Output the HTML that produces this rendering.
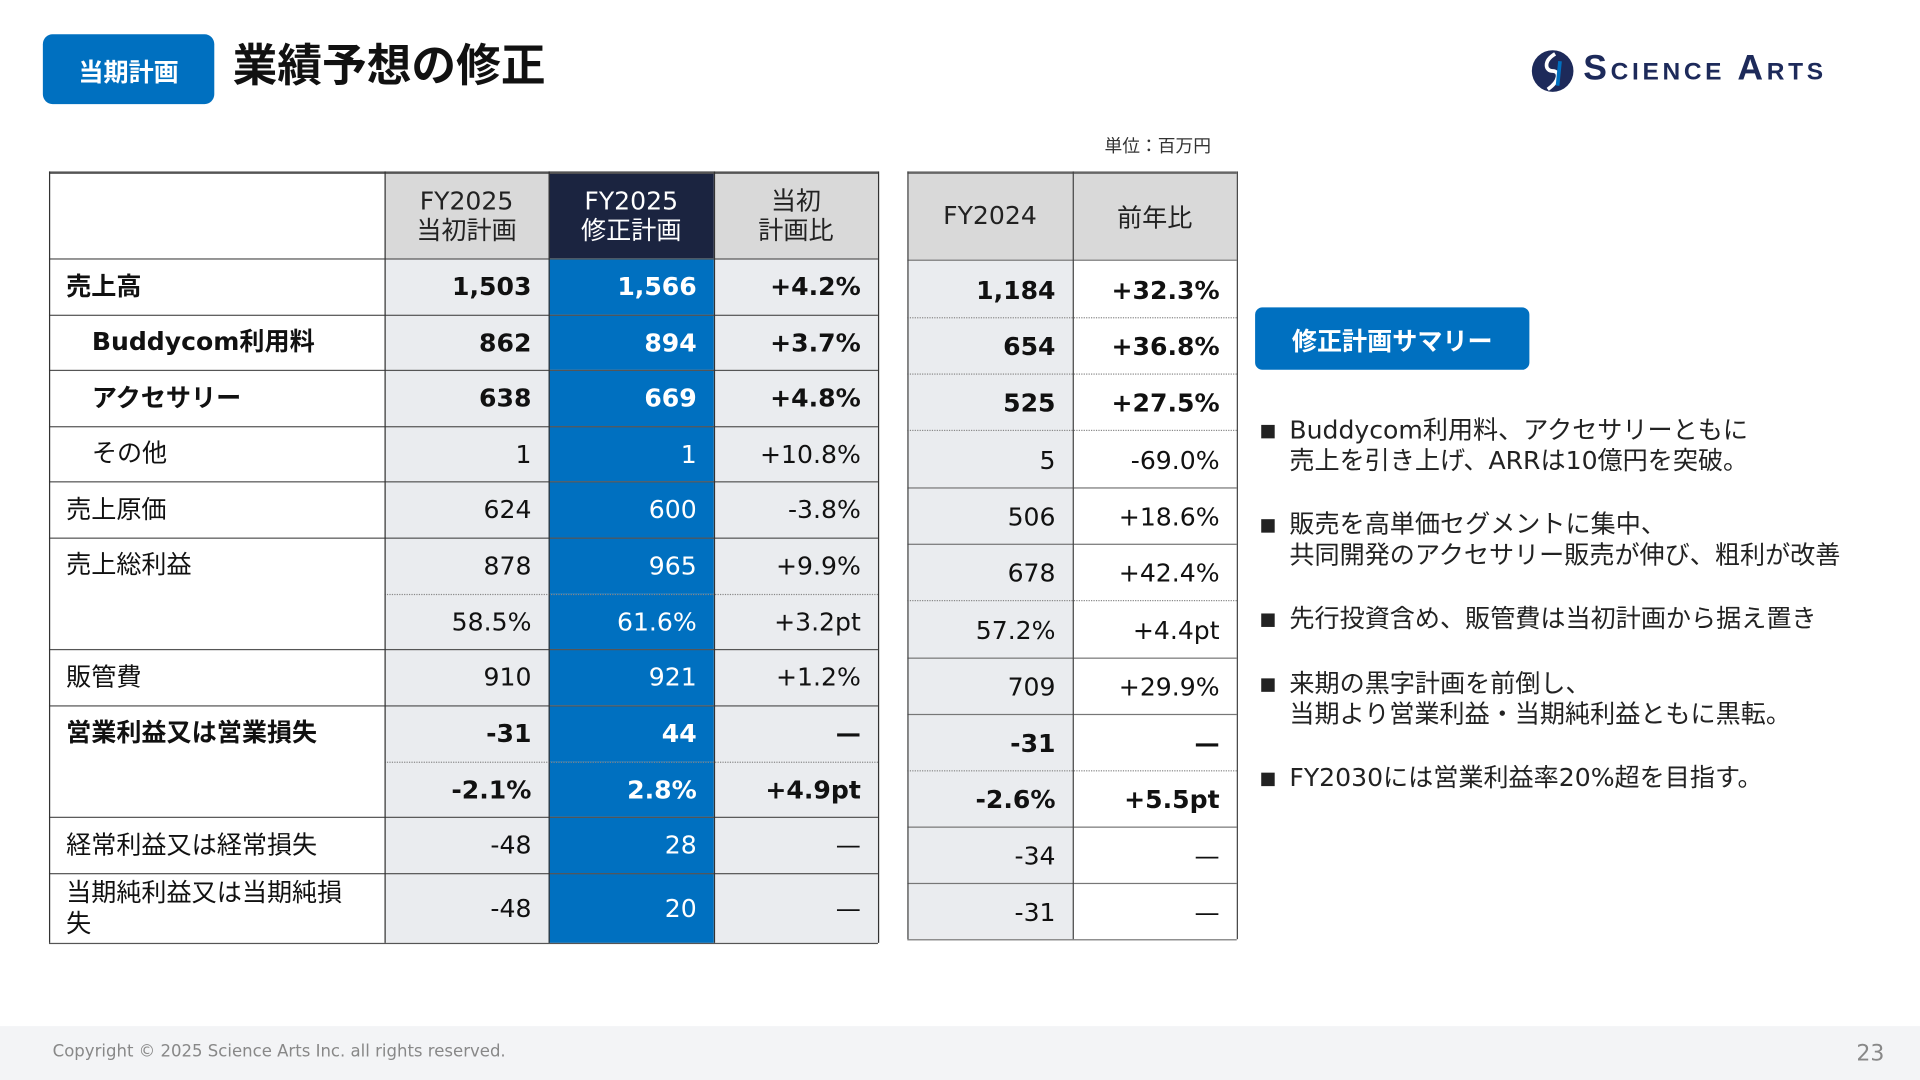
<!DOCTYPE html>
<html lang="ja"><head><meta charset="utf-8">
<style>
html,body{margin:0;padding:0;width:1920px;height:1080px;overflow:hidden;background:#fff}
#stage{position:absolute;left:0;top:0;width:1568px;height:882px;transform:scale(1.2244898);transform-origin:0 0;font-family:"DejaVu Sans","Noto Sans CJK JP",sans-serif;color:#111}
.abs{position:absolute;box-sizing:border-box}
.cell{position:absolute;box-sizing:border-box;display:flex;align-items:center;font-size:20.5px;white-space:nowrap}
.bullet{position:absolute;left:1030px;font-size:20.5px;line-height:25px;color:#222;white-space:nowrap}
.bullet::before{content:"";position:absolute;left:0;top:8px;width:11px;height:11px;background:#222}
.bullet span{display:block;padding-left:23px}
</style></head><body>
<div id="stage">
  <div class="abs" style="left:35px;top:28px;width:140px;height:57px;background:#0070c0;border-radius:8px;color:#fff;font-weight:bold;font-size:20.5px;display:flex;align-items:center;justify-content:center">当期計画</div>
  <div class="abs" style="left:190px;top:31px;font-size:36.5px;font-weight:bold;line-height:46px">業績予想の修正</div>
  <div class="abs" style="left:1250px;top:40px;width:290px;height:36px">
    <svg width="36" height="36" viewBox="0 0 36 36" style="position:absolute;left:0;top:0"><circle cx="18" cy="18" r="17" fill="#1d2a5a"/><path d="M20 4 C10 10 12 18 18 18 C24 18 24 26 14 33" stroke="#fff" stroke-width="3" fill="none"/><path d="M24 10 L22 30" stroke="#0070c0" stroke-width="3"/></svg>
    <div class="abs" style="left:43px;top:0px;font-size:29px;font-weight:bold;color:#1d2a5a;letter-spacing:3px;font-variant:small-caps;font-family:'Liberation Sans',sans-serif">Science Arts</div>
  </div>
  <div class="abs" style="left:902px;top:108px;font-size:14.5px;color:#333">単位：百万円</div>
  <div id="t1"></div>
  <div id="t2"></div>
  <div class="abs" style="left:1025px;top:251px;width:224px;height:51px;background:#0070c0;border-radius:6px;color:#fff;font-weight:bold;font-size:20.5px;display:flex;align-items:center;justify-content:center">修正計画サマリー</div>
  <div class="bullet" style="top:339px"><span>Buddycom利用料、アクセサリーともに<br>売上を引き上げ、ARRは10億円を突破。</span></div>
  <div class="bullet" style="top:416px"><span>販売を高単価セグメントに集中、<br>共同開発のアクセサリー販売が伸び、粗利が改善</span></div>
  <div class="bullet" style="top:493px"><span>先行投資含め、販管費は当初計画から据え置き</span></div>
  <div class="bullet" style="top:546px"><span>来期の黒字計画を前倒し、<br>当期より営業利益・当期純利益ともに黒転。</span></div>
  <div class="bullet" style="top:623px"><span>FY2030には営業利益率20%超を目指す。</span></div>
  <div class="abs" style="left:0;top:838px;width:1568px;height:44px;background:#f3f4f6">
    <div class="abs" style="left:43px;top:13px;font-size:13.5px;color:#888">Copyright © 2025 Science Arts Inc. all rights reserved.</div>
    <div class="abs" style="left:1516px;top:12px;font-size:18px;color:#888">23</div>
  </div>
</div>
<script>
const t1Cols=[40,314,448,583,717];
const t1Rows=[211,257,302,348,393,439,485,530,576,622,667,713,770];
const t1Head=["","FY2025<br>当初計画","FY2025<br>修正計画","当初<br>計画比"];
const t1Labels=[["売上高",1,0,1,0],["Buddycom利用料",1,1,1,1],["アクセサリー",1,1,1,2],["その他",0,1,1,3],["売上原価",0,0,1,4],["売上総利益",0,0,2,5],["販管費",0,0,1,7],["営業利益又は営業損失",1,0,2,8],["経常利益又は経常損失",0,0,1,10],["当期純利益又は当期純損<br>失",0,0,1,11]];
const t1Orig=["1,503","862","638","1","624","878","58.5%","910","-31","-2.1%","-48","-48"];
const t1Rev=["1,566","894","669","1","600","965","61.6%","921","44","2.8%","28","20"];
const t1Diff=["+4.2%","+3.7%","+4.8%","+10.8%","-3.8%","+9.9%","+3.2pt","+1.2%","—","+4.9pt","—","—"];
const boldRows=[0,1,2,8,9];
const dottedAfter=[5,8];
const t2Cols=[741,876,1010];
const t2Rows=[212,259,305,351,398,444,490,537,583,629,675,721,767];
const t2Head=["FY2024","前年比"];
const t2Vals=["1,184","654","525","5","506","678","57.2%","709","-31","-2.6%","-34","-31"];
const t2Yoy=["+32.3%","+36.8%","+27.5%","-69.0%","+18.6%","+42.4%","+4.4pt","+29.9%","—","+5.5pt","—","—"];
const stage=document.getElementById('stage');
function box(x,y,w,h,css,html,name){const d=document.createElement('div');d.className='cell';d.style.cssText=`left:${x}px;top:${y}px;width:${w}px;height:${h}px;`+css;d.innerHTML=html;


stage.appendChild(d);return d;}
function line(x,y,w,h,css,name){const d=document.createElement('div');d.className='abs';d.style.cssText=`left:${x}px;top:${y}px;width:${w}px;height:${h}px;`+css;


stage.appendChild(d);}
const hb=["#fff","#d9d9d9","#1b2440","#d9d9d9"],hc=["#111","#222","#fff","#222"];
for(let c=0;c<4;c++)box(t1Cols[c],140,t1Cols[c+1]-t1Cols[c],t1Rows[0]-140,`background:${hb[c]};color:${hc[c]};justify-content:center;text-align:center;line-height:24px;`,t1Head[c],'t1-header-'+c);
const cbg=["#eaecef","#0070c0","#eaecef"],cfg=["#111","#fff","#111"];
for(let r=0;r<12;r++){const y=t1Rows[r],h=t1Rows[r+1]-y,b=boldRows.includes(r)?'font-weight:bold;':'';
 [t1Orig,t1Rev,t1Diff].forEach((arr,c)=>box(t1Cols[c+1],y,t1Cols[c+2]-t1Cols[c+1],h,`background:${cbg[c]};color:${cfg[c]};justify-content:flex-end;padding-right:14px;`+b,arr[r],'t1-cell-r'+r+'-c'+c));}
t1Labels.forEach(([t,bold,ind,span,ri])=>{const y=t1Rows[ri],h=t1Rows[ri+span]-y;
 box(t1Cols[0],y,t1Cols[1]-t1Cols[0],h,`background:#fff;padding-left:${ind?35:14}px;align-items:${span>1?'flex-start':'center'};padding-top:${span>1?10:0}px;line-height:25px;white-space:normal;`+(bold?'font-weight:bold;':''),t,'t1-label-'+ri);});
line(40,140,677,1.5,'background:#555','t1-top-border');
for(let r=0;r<t1Rows.length;r++){const y=t1Rows[r];
 if(dottedAfter.includes(r-1)){line(t1Cols[1],y,t1Cols[4]-t1Cols[1],0,'border-top:1px dotted #888','t1-dotline-'+r);continue;}
 line(40,y-0.5,677,1.5,'background:#555','t1-hline-'+r);}
t1Cols.forEach((x,i)=>line(x-0.5,140,1.2,630,'background:#333','t1-vline-'+i));
box(741,140,135,t2Rows[0]-140,'background:#d9d9d9;color:#222;justify-content:center;',t2Head[0],'t2-header-0');
box(876,140,134,t2Rows[0]-140,'background:#d9d9d9;color:#222;justify-content:center;',t2Head[1],'t2-header-1');
for(let r=0;r<12;r++){const y=t2Rows[r],h=t2Rows[r+1]-y,b=boldRows.includes(r)?'font-weight:bold;':'';
 box(741,y,135,h,'background:#eaecef;justify-content:flex-end;padding-right:14px;padding-top:2px;'+b,t2Vals[r],'t2-value-r'+r);
 box(876,y,134,h,'background:#fff;justify-content:flex-end;padding-right:14px;padding-top:2px;'+b,t2Yoy[r],'t2-yoy-r'+r);}
line(741,140,269,1.5,'background:#666','t2-top-border');
for(let r=0;r<t2Rows.length;r++){const y=t2Rows[r];
 if(dottedAfter.includes(r-1)||(r>=1&&r<=3)){line(741,y,269,0,'border-top:1px dotted #888','t2-dotline-'+r);continue;}
 line(741,y-0.5,269,1.5,'background:#777','t2-hline-'+r);}
t2Cols.forEach((x,i)=>line(x-0.5,140,1.2,627,'background:#444','t2-vline-'+i));
</script>
</body></html>
